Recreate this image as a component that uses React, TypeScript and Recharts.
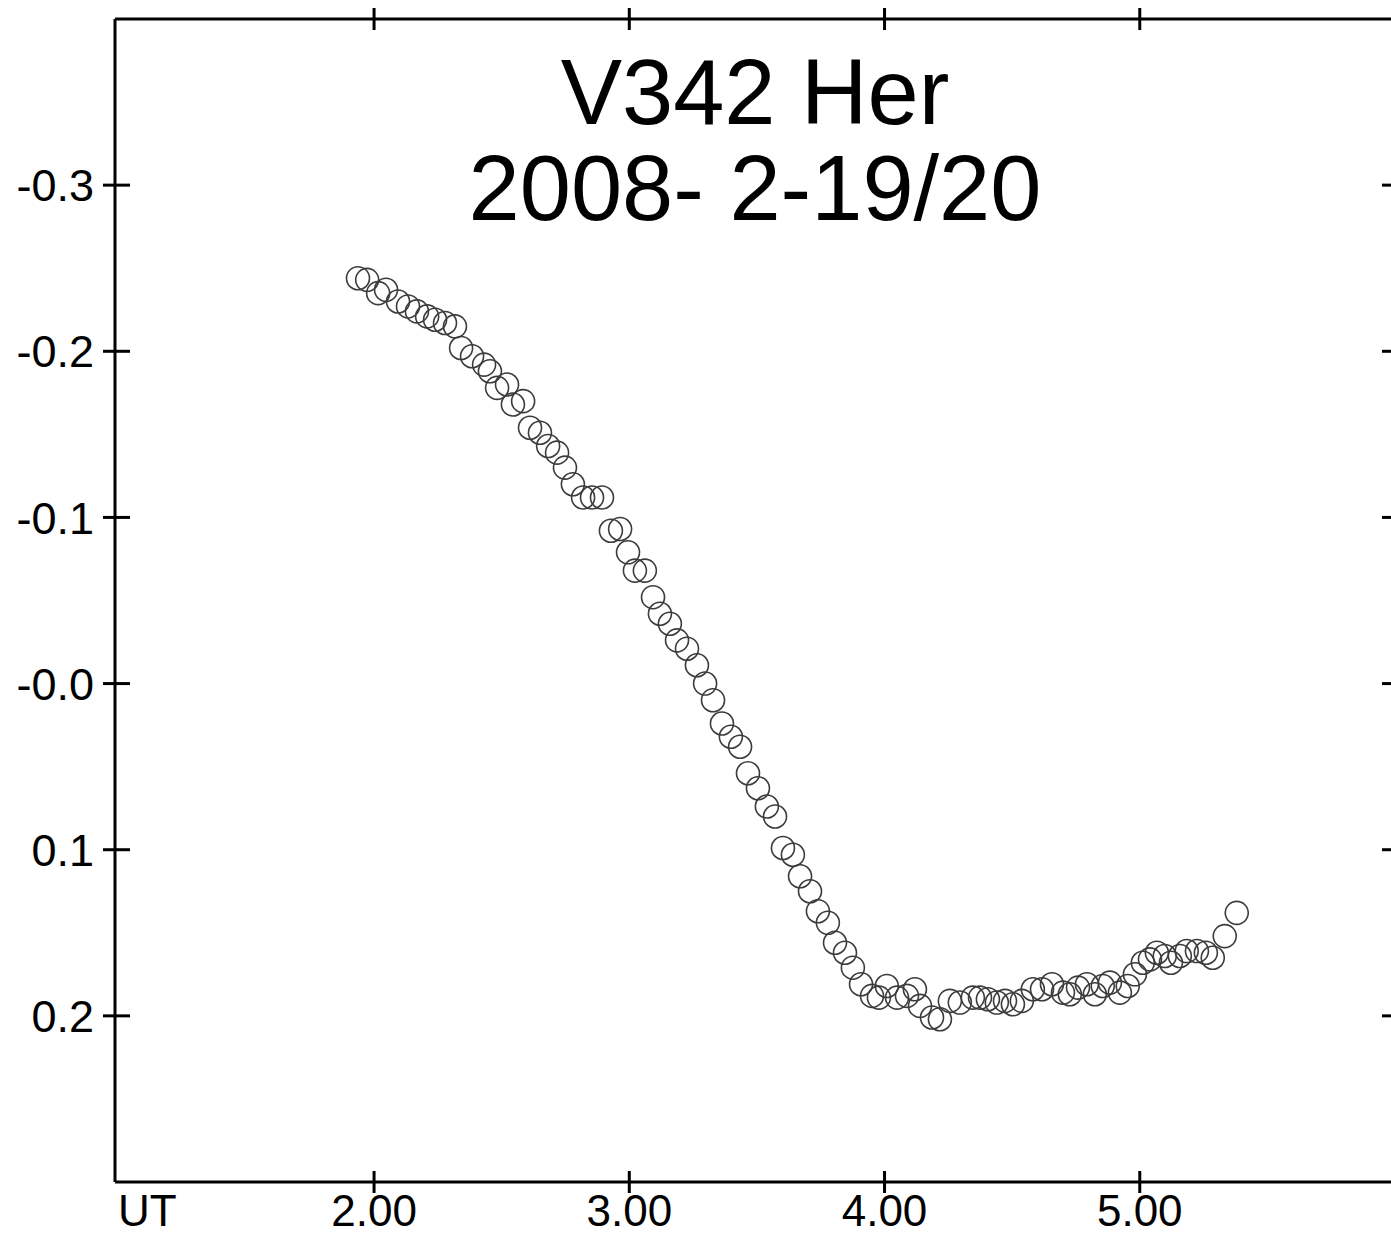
import { ScatterChart, Scatter, XAxis, YAxis, Label } from "recharts";

// UT (hours) of each observation
const utHours = [
  1.937, 1.973, 2.016, 2.047, 2.094, 2.133, 2.168, 2.208, 2.239, 2.278,
  2.317, 2.341, 2.384, 2.431, 2.454, 2.482, 2.521, 2.544, 2.584, 2.611,
  2.65, 2.682, 2.717, 2.748, 2.779, 2.819, 2.854, 2.893, 2.928, 2.964,
  2.995, 3.022, 3.061, 3.093, 3.12, 3.159, 3.187, 3.226, 3.265, 3.297,
  3.328, 3.363, 3.398, 3.434, 3.465, 3.504, 3.539, 3.571, 3.602, 3.641,
  3.669, 3.708, 3.739, 3.778, 3.806, 3.845, 3.876, 3.908, 3.951, 3.978,
  4.009, 4.049, 4.088, 4.119, 4.139, 4.186, 4.217, 4.256, 4.295, 4.346,
  4.374, 4.405, 4.44, 4.472, 4.503, 4.538, 4.581, 4.617, 4.656, 4.699,
  4.726, 4.758, 4.793, 4.824, 4.855, 4.883, 4.922, 4.953, 4.981, 5.012,
  5.04, 5.067, 5.098, 5.122, 5.157, 5.184, 5.224, 5.259, 5.286, 5.333,
  5.38,
];

// differential magnitude
const deltaMag = [
  -0.244, -0.243, -0.235, -0.237, -0.23, -0.227, -0.224, -0.221, -0.219, -0.217,
  -0.215, -0.202, -0.197, -0.192, -0.188, -0.178, -0.18, -0.168, -0.17, -0.154,
  -0.151, -0.143, -0.139, -0.13, -0.12, -0.112, -0.112, -0.112, -0.092, -0.093,
  -0.079, -0.068, -0.068, -0.052, -0.042, -0.036, -0.026, -0.021, -0.011, 0.0,
  0.01, 0.024, 0.032, 0.038, 0.054, 0.063, 0.074, 0.08, 0.099, 0.103,
  0.116, 0.125, 0.137, 0.144, 0.156, 0.162, 0.171, 0.181, 0.188, 0.189,
  0.182, 0.189, 0.188, 0.184, 0.194, 0.201, 0.202, 0.191, 0.192, 0.189,
  0.189, 0.19, 0.192, 0.191, 0.193, 0.191, 0.184, 0.184, 0.181, 0.186,
  0.187, 0.183, 0.181, 0.187, 0.182, 0.18, 0.186, 0.182, 0.175, 0.168,
  0.166, 0.162, 0.164, 0.168, 0.164, 0.161, 0.161, 0.162, 0.165, 0.152,
  0.138,
];

const timeTicks = [2, 3, 4, 5];
const magTicks = [-0.3, -0.2, -0.1, 0, 0.1, 0.2];
const titleLines = ["V342 Her", "2008- 2-19/20"];
const timeLabel = "UT";

const FONT = "'Liberation Sans', Arial, sans-serif";

const points = utHours.map((t, i) => ({ ut: t, mag: deltaMag[i] }));

const fmtMag = (v: number) => (v <= 0 ? "-" : "") + Math.abs(v).toFixed(1);

const leftTick = ({ x, y, payload }: any) => (
  <g>
    <line x1={x - 12} x2={x + 15} y1={y} y2={y} stroke="#000" strokeWidth={3} />
    <text x={x - 21} y={y} dy="0.36em" textAnchor="end" fontSize={45} fontFamily={FONT} fill="#000">
      {fmtMag(payload.value)}
    </text>
  </g>
);

const rightTick = ({ x, y }: any) => (
  <line x1={x - 13} x2={x + 12} y1={y} y2={y} stroke="#000" strokeWidth={3} />
);

const bottomTick = ({ x, y, payload }: any) => (
  <g>
    <line x1={x} x2={x} y1={y - 11} y2={y + 11} stroke="#000" strokeWidth={3} />
    <text x={x} y={y + 44} textAnchor="middle" fontSize={44} fontFamily={FONT} fill="#000">
      {payload.value.toFixed(2)}
    </text>
  </g>
);

// top border: tick marks only, crossing the frame line
const topTick = ({ x, payload }: any) => {
  const cx = payload && payload.coordinate != null ? payload.coordinate : x;
  return (
    <line x1={cx} x2={cx} y1={8} y2={30} stroke="#000" strokeWidth={3} />
  );
};

const Ring = (props: any) => (
  <circle cx={props.cx} cy={props.cy} r={11.5} fill="none" stroke="#3c3c3c" strokeWidth={1.6} />
);

export default function App() {
  return (
    <div style={{ position: "absolute", left: 0, top: 0, background: "#fff" }}>
      <ScatterChart
        width={1400}
        height={1235}
        margin={{ top: 17, right: 4, bottom: 0, left: 0 }}
      >
        <XAxis
          xAxisId="bottom"
          dataKey="ut"
          type="number"
          domain={[0.985, 6.0]}
          ticks={timeTicks}
          allowDataOverflow
          height={53}
          tickSize={0}
          tickMargin={0}
          tickLine={false}
          tick={bottomTick}
          axisLine={{ stroke: "#000", strokeWidth: 3 }}
        >
          <Label
            content={({ viewBox }: any) => (
              <text
                x={viewBox.x + 3}
                y={viewBox.y + 44}
                fontSize={44}
                fontFamily={FONT}
                fill="#000"
              >
                {timeLabel}
              </text>
            )}
          />
        </XAxis>
        <XAxis
          xAxisId="top"
          orientation="top"
          dataKey="ut"
          type="number"
          domain={[0.985, 6.0]}
          ticks={timeTicks}
          interval={0}
          allowDataOverflow
          height={2}
          tickSize={0}
          tickMargin={0}
          tickLine={false}
          tick={topTick}
          axisLine={{ stroke: "#000", strokeWidth: 3 }}
        >
          <Label
            content={({ viewBox }: any) => (
              <g>
                {titleLines.map((line, i) => (
                  <text
                    key={line}
                    x={viewBox.x + viewBox.width / 2}
                    y={viewBox.y + 107 + i * 96}
                    textAnchor="middle"
                    fontSize={92}
                    fontFamily={FONT}
                    fill="#000"
                  >
                    {line}
                  </text>
                ))}
              </g>
            )}
          />
        </XAxis>
        <YAxis
          yAxisId="left"
          dataKey="mag"
          type="number"
          domain={[-0.4, 0.3]}
          reversed
          ticks={magTicks}
          allowDataOverflow
          width={115}
          tickSize={0}
          tickMargin={0}
          tickLine={false}
          tick={leftTick}
          axisLine={{ stroke: "#000", strokeWidth: 3 }}
        />
        <YAxis
          yAxisId="right"
          orientation="right"
          type="number"
          domain={[-0.4, 0.3]}
          reversed
          ticks={magTicks}
          allowDataOverflow
          width={1}
          tickSize={0}
          tickMargin={0}
          tickLine={false}
          tick={rightTick}
          axisLine={{ stroke: "#000", strokeWidth: 3 }}
        />
        <Scatter
          data={points}
          xAxisId="bottom"
          yAxisId="left"
          shape={<Ring />}
          isAnimationActive={false}
        />
      </ScatterChart>
    </div>
  );
}
